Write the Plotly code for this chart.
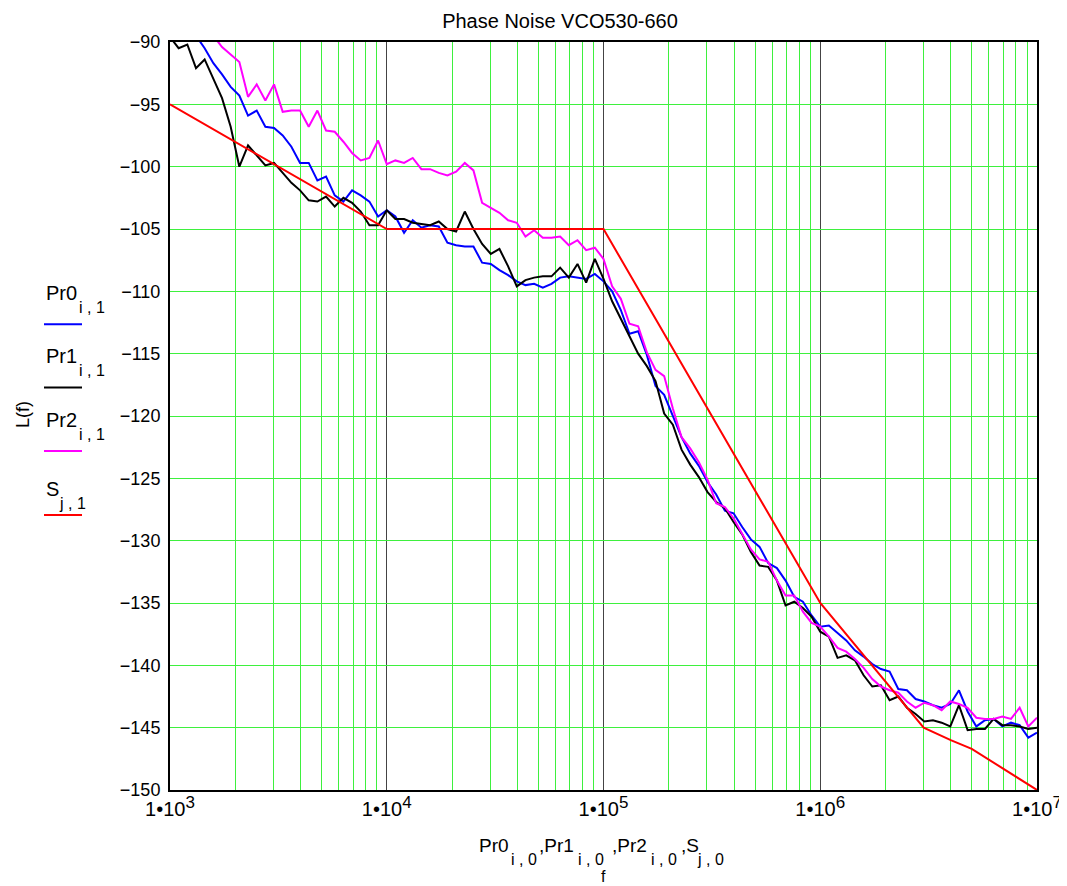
import plotly.graph_objects as go

# ---------------- data ----------------
freq = [1000, 1096, 1202, 1318, 1445, 1585, 1738, 1905, 2089, 2291, 2512, 2754, 3020, 3311, 3631, 3981, 4365, 4786, 5248, 5754, 6310, 6918, 7586, 8318, 9120,
        10000, 10960, 12020, 13180, 14450, 15850, 17380, 19050, 20890, 22910, 25120, 27540, 30200, 33110, 36310, 39810, 43650, 47860, 52480, 57540, 63100, 69180, 75860, 83180, 91200,
        100000, 109600, 120200, 131800, 144500, 158500, 173800, 190500, 208900, 229100, 251200, 275400, 302000, 331100, 363100, 398100, 436500, 478600, 524800, 575400, 631000, 691800, 758600, 831800, 912000,
        1000000, 1096000, 1202000, 1318000, 1445000, 1585000, 1738000, 1905000, 2089000, 2291000, 2512000, 2754000, 3020000, 3311000, 3631000, 3981000, 4365000, 4786000, 5248000, 5754000, 6310000, 6918000, 7586000, 8318000, 9120000,
        10000000]

pr0 = [-87.5, -88.3, -88.8, -89.5, -90.5, -91.7, -92.6, -93.6, -94.3, -95.9, -95.5, -96.8, -96.9, -97.5, -98.4, -99.7, -99.7, -101.1, -100.8, -102.3, -102.8, -101.9, -102.3, -102.8, -104.0,
       -103.5, -104.0, -105.3, -104.3, -104.9, -104.7, -104.8, -106.1, -106.3, -106.4, -106.4, -107.7, -107.8, -108.3, -108.7, -109.2, -109.5, -109.4, -109.7, -109.4, -108.9, -108.8, -108.9, -109.0, -108.6,
       -109.2, -110.0, -111.5, -113.4, -113.2, -115.1, -117.6, -118.3, -120.0, -121.7, -123.0, -124.0, -125.3, -126.3, -127.6, -127.8, -128.9, -129.9, -130.5, -131.8, -132.2, -133.2, -134.5, -134.9, -136.0,
       -136.9, -136.8, -137.4, -138.0, -138.8, -139.3, -139.9, -140.3, -140.5, -141.9, -142.0, -142.7, -142.9, -143.2, -143.4, -143.1, -142.0, -143.7, -144.9, -144.4, -144.3, -144.9, -144.6, -144.8, -145.8,
       -145.4]

pr1 = [-89.6, -90.5, -90.2, -92.1, -91.4, -93.0, -94.5, -96.8, -100.0, -98.3, -99.1, -99.9, -99.7, -100.5, -101.3, -101.9, -102.7, -102.8, -102.4, -103.2, -102.5, -102.9, -103.6, -104.7, -104.7,
       -103.5, -104.2, -104.2, -104.5, -104.6, -104.7, -104.4, -105.0, -105.2, -103.6, -105.0, -106.2, -107.0, -106.6, -108.0, -109.6, -109.1, -108.9, -108.8, -108.8, -108.1, -108.9, -107.8, -109.3, -107.4,
       -109.0, -110.8, -112.2, -113.5, -115.0, -116.0, -117.2, -119.8, -120.7, -122.7, -123.9, -124.9, -126.1, -126.9, -127.4, -128.5, -129.5, -130.9, -132.0, -132.1, -133.2, -135.2, -134.9, -135.4, -136.1,
       -137.3, -137.7, -139.4, -139.2, -139.6, -140.8, -141.7, -141.6, -142.8, -142.5, -143.4, -143.9, -144.5, -144.4, -144.6, -144.9, -143.2, -145.2, -145.1, -145.1, -144.3, -144.8, -144.8, -144.9, -145.1,
       -145.0]

pr2 = [-86.0, -86.8, -87.5, -88.2, -88.9, -89.5, -90.4, -91.0, -91.6, -94.4, -93.4, -94.7, -93.4, -95.6, -95.5, -95.5, -96.8, -95.5, -97.1, -97.2, -98.0, -98.9, -99.5, -99.3, -97.9,
       -99.8, -99.5, -99.7, -99.3, -100.2, -100.2, -100.5, -100.7, -100.4, -99.7, -100.3, -102.9, -103.3, -103.7, -104.3, -104.5, -105.6, -105.1, -105.7, -105.7, -105.6, -106.3, -105.9, -106.7, -106.5,
       -107.4, -109.6, -110.6, -112.6, -112.8, -114.9, -116.3, -116.8, -119.4, -121.7, -122.6, -123.7, -125.1, -127.0, -127.3, -128.2, -129.4, -130.7, -131.5, -131.7, -133.2, -134.4, -134.4, -135.7, -136.6,
       -136.9, -137.7, -138.6, -138.9, -139.5, -140.2, -141.1, -141.7, -142.0, -142.2, -142.9, -143.4, -143.0, -143.2, -143.6, -142.9, -143.1, -143.4, -144.2, -144.3, -144.3, -144.1, -144.3, -143.4, -144.9,
       -144.2]

s_freq = [1e3, 1e4, 1e5, 1e6, 3e6, 4e6, 5e6, 1e7]
s_val = [-95, -105, -105, -135, -145, -146, -146.7, -150]

x_tickvals = [1e3, 1e4, 1e5, 1e6, 1e7]
x_exponents = ["3", "4", "5", "6", "7"]
y_tickvals = [-150, -145, -140, -135, -130, -125, -120, -115, -110, -105, -100, -95, -90]

series = [("Pr0", "i , 1", pr0, "#0000ff"),
          ("Pr1", "i , 1", pr1, "#000000"),
          ("Pr2", "i , 1", pr2, "#ff00ff")]

# ---------------- figure ----------------
FONT = "Liberation Sans, Arial, sans-serif"
OFF = 8                      # page body margin
W, H = 1067 - OFF, 886 - OFF
L, R, T, B = 162, 30, 34, 96
PW, PH = W - L - R, H - T - B

fig = go.Figure()
for name, sub, vals, col in series:
    fig.add_trace(go.Scatter(x=freq, y=vals, mode="lines", name=name,
                             line=dict(color=col, width=2), showlegend=False))
fig.add_trace(go.Scatter(x=s_freq, y=s_val, mode="lines", name="S",
                         line=dict(color="#ff0000", width=2), showlegend=False))

minor_vals = [m * 10 ** e for e in range(3, 7) for m in range(2, 10)]
green = "#3ef03e"
x_ticktext = [f"1•10<sup><span style='font-size:17px'>{e}</span></sup>" for e in x_exponents]

fig.update_xaxes(type="log", range=[3, 7], tickmode="array", tickvals=x_tickvals, ticktext=x_ticktext,
                 showgrid=True, gridcolor="#444444", gridwidth=1, automargin=False,
                 minor=dict(tickmode="array", tickvals=minor_vals, showgrid=True, gridcolor=green, gridwidth=1, ticks=""),
                 showline=True, linecolor="black", linewidth=2, mirror=True,
                 ticks="", tickfont=dict(family=FONT, size=20, color="black"), zeroline=False)
fig.update_yaxes(range=[-150, -90], tickmode="array", tickvals=y_tickvals,
                 showgrid=True, gridcolor=green, gridwidth=1, automargin=False,
                 showline=True, linecolor="black", linewidth=2, mirror=True,
                 ticks="", ticklabelstandoff=4, tickfont=dict(family=FONT, size=18, color="black"), zeroline=False)


def px(xp):
    return (xp - OFF - L) / PW


def py(yp):
    return (H - B - (yp - OFF)) / PH


annotations = []
shapes = []


def txt(xp, yp, text, size, xanchor="left", yanchor="middle", angle=0):
    annotations.append(dict(xref="paper", yref="paper", x=px(xp), y=py(yp), xanchor=xanchor, yanchor=yanchor,
                            text=text, textangle=angle, showarrow=False,
                            font=dict(family=FONT, size=size, color="black")))


# legend (text above a line sample, subscripts set low as in the original)
legend_items = [(n, s, c) for n, s, _, c in series] + [("S", "j , 1", "#ff0000")]
main_y = [292.5, 356.0, 419.6, 489.0]
sub_y = [307.0, 370.5, 434.1, 503.0]
sub_x = [76.5, 76.5, 76.5, 57.0]
line_y = [324.3, 387.5, 451.0, 515.0]
for i, (n, s, c) in enumerate(legend_items):
    txt(44, main_y[i], n, 20)
    txt(sub_x[i], sub_y[i], s, 16)
    shapes.append(dict(type="line", xref="paper", yref="paper", x0=px(44), x1=px(82),
                       y0=py(line_y[i]), y1=py(line_y[i]), line=dict(color=c, width=2)))

# y axis title
txt(23, 415, "L(f)", 18, xanchor="center", angle=-90)

# x axis title, built piece by piece
x_main = [(477, "Pr0"), (537, ",Pr1"), (610, ",Pr2"), (679, ",S")]
x_sub = [(509, "i , 0"), (575.5, "i , 0"), (649, "i , 0"), (695, "j , 0")]
for xp, t in x_main:
    txt(xp, 845, t, 19)
for xp, t in x_sub:
    txt(xp, 859, t, 16)
txt(603, 877, "f", 16, xanchor="center")

fig.update_layout(
    width=W, height=H, autosize=False,
    margin=dict(l=L, r=R, t=T, b=B, autoexpand=False),
    paper_bgcolor="white", plot_bgcolor="white",
    title=dict(text="Phase Noise VCO530-660", x=(560 - OFF) / W, xref="container", xanchor="center",
               y=1 - (21 - OFF) / H, yref="container", yanchor="middle", automargin=False,
               font=dict(family=FONT, size=20, color="black")),
    annotations=annotations, shapes=shapes,
    showlegend=False,
)

fig.write_html("out.html")
